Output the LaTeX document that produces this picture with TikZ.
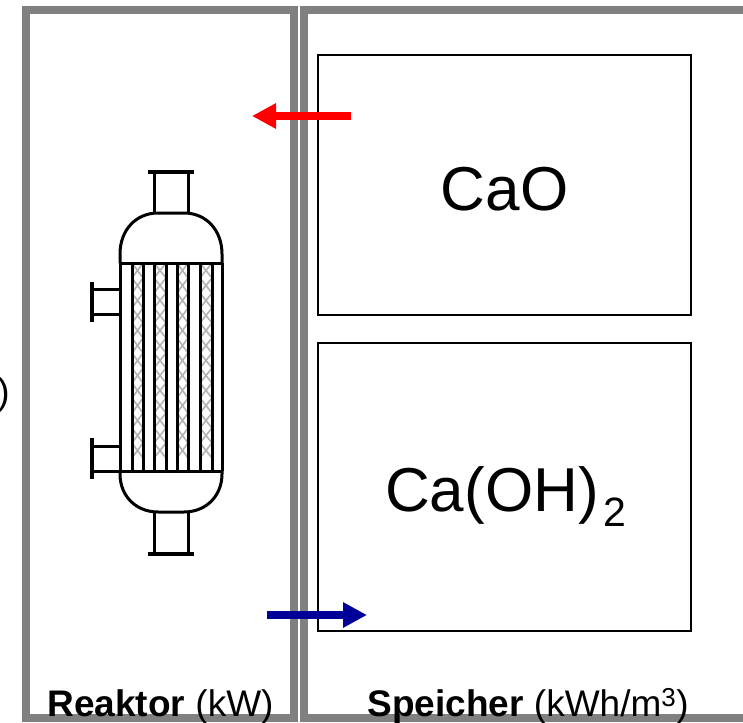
\documentclass[tikz,border=0pt]{standalone}
\usepackage{fontspec}
\setmainfont{Liberation Sans}
\usetikzlibrary{arrows.meta}
\definecolor{framegray}{RGB}{128,128,128}
\definecolor{heatblue}{RGB}{0,0,153}
\tikzset{
  frameline/.style={draw=framegray,line width=8pt},
  tank/.style={draw=black,line width=2pt,minimum width=373pt,inner sep=0pt},
  tanktext/.style={inner sep=0pt,anchor=base,font=\fontsize{62}{62}\selectfont},
  rline/.style={draw=black,line width=3pt},
  flange/.style={draw=black,line width=4pt},
  tubeline/.style={draw=black,line width=3pt},
  packing/.style={draw=black!30,line width=1.6pt},
  flow/.style={line width=8pt,-{Triangle[length=24pt,width=24pt]}},
  label/.style={inner sep=0pt,anchor=base,font=\fontsize{37}{37}\selectfont}
}
\begin{document}
\begin{tikzpicture}[x=1pt,y=-1pt]
\useasboundingbox (0,0) rectangle (743,722);
\clip (0,0) rectangle (743,722);
\fill[white] (0,0) rectangle (743,722);
% frames
\draw[frameline] (26,10) rectangle (294,718);
\draw[frameline] (304,10) rectangle (770,718);
% tanks
\node[tank,minimum height=260pt] (cao) at (504.5,185) {};
\node[tank,minimum height=288pt] (caoh) at (504.5,487) {};
\node[tanktext] (caotext) at (504.5,210) {CaO};
\node[tanktext,anchor=base west] (caohtext) at (385,511) {Ca(OH)\kern5pt\raisebox{-15pt}{\fontsize{41}{41}\selectfont 2}};
% reactor packing
\foreach \a/\b in {132/143,154/166,177/188,200/212}{
  \foreach \y in {263,278,...,456}{
    \draw[packing] (\a,\y) -- (\b,\y+15);
    \draw[packing] (\b,\y) -- (\a,\y+15);
  }
  \draw[tubeline] (\a,263) -- (\a,471);
  \draw[tubeline] (\b,263) -- (\b,471);
}
% reactor shell
\draw[rline] (120,263) -- (120,254) .. controls (120,230) and (136,213) .. (158,213) -- (184,213) .. controls (206,213) and (222,230) .. (222,254) -- (222,263);
\draw[rline] (120,471) -- (120,474) .. controls (120,496) and (136,512) .. (158,512) -- (184,512) .. controls (206,512) and (222,496) .. (222,474) -- (222,471);
\draw[rline] (120,263) -- (222,263);
\draw[rline] (120,471) -- (222,471);
\draw[rline] (120,263) -- (120,471);
\draw[rline] (222,263) -- (222,471);
% top and bottom nozzles
\draw[rline] (154,213) -- (154,172);
\draw[rline] (188,213) -- (188,172);
\draw[flange] (148,172) -- (194,172);
\draw[rline] (154,512) -- (154,554);
\draw[rline] (188,512) -- (188,554);
\draw[flange] (148,554) -- (194,554);
% side nozzles
\draw[flange] (92,282) -- (92,322);
\draw[rline] (92,289) -- (120,289);
\draw[rline] (92,314) -- (120,314);
\draw[flange] (92,438) -- (92,479);
\draw[rline] (92,446) -- (120,446);
\draw[rline] (92,471) -- (120,471);
% arrows
\coordinate (redstart) at (351,116);
\coordinate (redend) at (252,116);
\coordinate (bluestart) at (267,615);
\coordinate (blueend) at (367,615);
\draw[flow,red] (redstart) -- (redend);
\draw[flow,heatblue] (bluestart) -- (blueend);
% labels
\node[label] (reaktor) at (160.5,716) {\textbf{Reaktor} (kW)};
\node[label] (speicher) at (528,716) {\textbf{Speicher} (kWh/m\textsuperscript{3})};
\node[label,anchor=base east] (cut) at (10,404) {)};
\end{tikzpicture}
\end{document}
